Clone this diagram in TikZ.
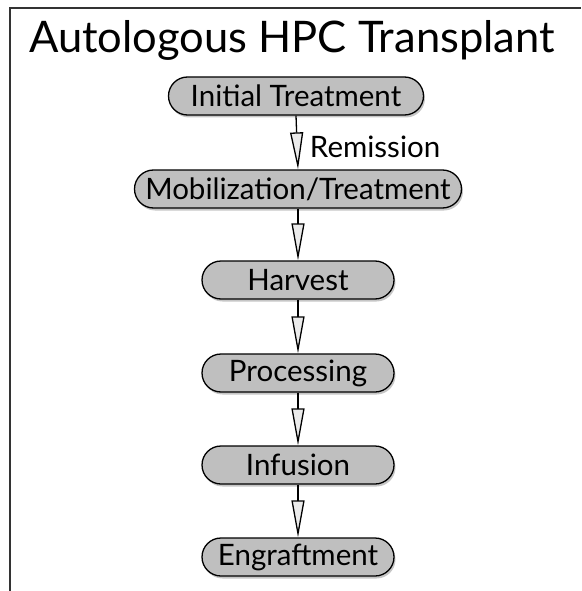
\documentclass[tikz,border=0pt]{standalone}
\usepackage{fontspec}
\setmainfont{Lato}
\usetikzlibrary{shapes.misc,shadows,arrows.meta}
\tikzset{
  stepbox/.style={rounded rectangle, draw=black, line width=1.3pt, fill=black!25,
    minimum height=38pt, inner sep=0pt, font=\fontsize{29.5}{32}\selectfont,
    drop shadow={shadow xshift=1.5pt, shadow yshift=-2.5pt, opacity=0.45}},
  flow/.style={line width=1.3pt, draw=black,
    -{Triangle[open, length=37pt, width=13pt, fill=black!8]}},
}
\begin{document}
\begin{tikzpicture}[x=1pt,y=-1pt]
\useasboundingbox (0,0) rectangle (581,591);
\draw[line width=1.8pt, black!80] (10,591) -- (10,8) -- (581,8);
\node (title) [font=\fontsize{43.5}{48}\selectfont] at (292,40) {Autologous HPC Transplant};
\node (n1) [stepbox, minimum width=255pt] at (296,96) {Initial Treatment};
\node (n2) [stepbox, minimum width=327pt] at (298,189) {Mobilization/Treatment};
\node (n3) [stepbox, minimum width=192pt] at (298,280) {Harvest};
\node (n4) [stepbox, minimum width=192pt] at (298,373) {Processing};
\node (n5) [stepbox, minimum width=192pt] at (298,465) {Infusion};
\node (n6) [stepbox, minimum width=192pt] at (298,557) {Engraftment};
\draw[flow] (n1.south) -- (n2.north) node[midway, anchor=west, xshift=9pt, yshift=-4pt, font=\fontsize{29.5}{32}\selectfont] {Remission};
\draw[flow] (n2.south) -- (n3.north);
\draw[flow] (n3.south) -- (n4.north);
\draw[flow] (n4.south) -- (n5.north);
\draw[flow] (n5.south) -- (n6.north);
\end{tikzpicture}
\end{document}
